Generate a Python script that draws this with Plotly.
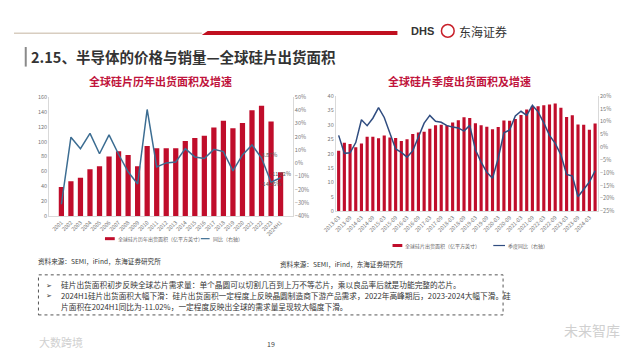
import plotly.graph_objects as go

# ---------------- data ----------------
years = ["2001", "2002", "2003", "2004", "2005", "2006", "2007", "2008", "2009", "2010",
         "2011", "2012", "2013", "2014", "2015", "2016", "2017", "2018", "2019", "2020",
         "2021", "2022", "2023", "2024H1"]
annual_area = [39, 47, 51.5, 63, 67, 80, 87, 82, 67, 94,
               91, 91, 91, 101, 105, 108, 119, 128, 118, 125,
               142, 148, 127, 59]
annual_yoy = [-31.0, 19.6, 10.9, 22.5, 7.1, 21.3, 6.7, -6.5, -15.7, 40.5,
              -2.8, 0.2, 0.9, 11.0, 4.7, 3.5, 10.4, 8.7, -5.8, 6.2,
              13.8, 3.87, -14.35, -11.02]
annual_labels = [""] * 21 + ["3.87%", "-14.35%", "-11.02%"]

quarters = ["2013-03", "2013-06", "2013-09", "2013-12", "2014-03", "2014-06", "2014-09", "2014-12",
            "2015-03", "2015-06", "2015-09", "2015-12", "2016-03", "2016-06", "2016-09", "2016-12",
            "2017-03", "2017-06", "2017-09", "2017-12", "2018-03", "2018-06", "2018-09", "2018-12",
            "2019-03", "2019-06", "2019-09", "2019-12", "2020-03", "2020-06", "2020-09", "2020-12",
            "2021-03", "2021-06", "2021-09", "2021-12", "2022-03", "2022-06", "2022-09", "2022-12",
            "2023-03", "2023-06", "2023-09", "2023-12", "2024-03", "2024-06"]
quarter_ticks = ["2013-03", "2013-09", "2014-03", "2014-09", "2015-03", "2015-09", "2016-03",
                 "2016-09", "2017-03", "2017-09", "2018-03", "2018-09", "2019-03", "2019-09",
                 "2020-03", "2020-09", "2021-03", "2021-09", "2022-03", "2022-09", "2023-03",
                 "2023-09", "2024-03"]
quarter_area = [21.0, 23.8, 23.3, 22.2, 23.5, 25.8, 25.8, 25.3, 26.3, 25.6, 25.4, 24.4,
                25.0, 26.8, 27.3, 27.6, 28.6, 29.8, 30.0, 29.8, 30.8, 31.6, 32.6, 32.3,
                30.5, 29.8, 29.3, 28.4, 29.2, 31.5, 31.4, 32.0, 33.4, 35.3, 36.5, 36.4,
                36.8, 37.0, 37.4, 35.9, 32.7, 33.3, 30.1, 30.0, 28.3, 30.4]
quarter_yoy = [4.6, -2.4, -2.2, 1.8, 10.7, 8.4, 11.3, 15.4, 11.6, 5.0, -0.7, -2.0,
               -3.9, -1.4, 4.4, 9.4, 12.4, 10.1, 9.7, 8.4, 7.9, 7.5, 6.3, 8.5,
               -1.0, -5.8, -9.8, -12.1, -4.3, 5.6, 6.7, 12.2, 14.0, 12.4, 16.3, 13.8,
               9.5, 4.6, 1.5, -3.0, -10.6, -11.2, -19.3, -16.5, -13.6, -9.2]

left_series_names = ["全球硅片历年出货面积（亿平方英寸）", "同比（右轴）"]
right_series_names = ["全球硅片出货面积（亿平方英寸）", "季度同比（右轴）"]

RED = "#c00d2b"
BLUE_L = "#3c6d92"
BLUE_R = "#304d80"
CJK = "Noto Sans CJK SC"
TICK = dict(size=5.5, color="#777777", family=CJK)


def X(px):
    return px / 640


def Y(py):
    return 1 - py / 360


fig = go.Figure()

# left chart
fig.add_trace(go.Bar(x=years, y=annual_area, name=left_series_names[0],
                     marker=dict(color=RED, line=dict(width=0)), xaxis="x", yaxis="y"))
fig.add_trace(go.Scatter(x=years, y=[v / 100 for v in annual_yoy], name=left_series_names[1],
                         mode="lines+text", text=annual_labels,
                         textposition=["top center"] * 21 + ["top right", "bottom center", "top center"],
                         textfont=dict(size=5.5, color="#555555", family=CJK),
                         line=dict(color=BLUE_L, width=1.5), xaxis="x", yaxis="y2",
                         cliponaxis=False))

# right chart
fig.add_trace(go.Bar(x=quarters, y=quarter_area, name=right_series_names[0],
                     marker=dict(color=RED, line=dict(width=0)), xaxis="x2", yaxis="y3"))
fig.add_trace(go.Scatter(x=quarters, y=quarter_yoy, name=right_series_names[1], mode="lines",
                         line=dict(color=BLUE_R, width=1.5), xaxis="x2", yaxis="y4"))

axis_common = dict(showgrid=False, zeroline=False, showline=True, linecolor="#d9d9d9",
                   linewidth=1, ticks="", tickfont=TICK)

fig.update_layout(
    width=640, height=360,
    margin=dict(l=0, r=0, t=0, b=0),
    paper_bgcolor="white", plot_bgcolor="white",
    font=dict(family=CJK),
    bargap=0.45,
    showlegend=False,
    xaxis=dict(domain=[X(36), X(285)], anchor="y", tickangle=-45, type="category", **axis_common),
    yaxis=dict(domain=[Y(217), Y(95)], range=[0, 160], dtick=20, **axis_common),
    yaxis2=dict(overlaying="y", side="right", anchor="x", range=[-0.4, 0.5], dtick=0.1,
                tickformat=".0%", **axis_common),
    xaxis2=dict(domain=[X(329), X(597)], anchor="y3", tickangle=-45, type="category",
                tickmode="array", tickvals=quarter_ticks, ticktext=quarter_ticks, **axis_common),
    yaxis3=dict(domain=[Y(212), Y(94)], anchor="x2", range=[0, 40], dtick=5, **axis_common),
    yaxis4=dict(overlaying="y3", side="right", anchor="x2", range=[-25, 20], dtick=5,
                ticksuffix="%", **axis_common),
)


def line_shape(x0, x1, y0, y1, color, width, dash="solid"):
    return dict(type="line", xref="paper", yref="paper", x0=X(x0), x1=X(x1), y0=Y(y0), y1=Y(y1),
                line=dict(color=color, width=width, dash=dash))


shapes = [
    line_shape(0, 192, 30, 30, "#d8cdc0", 1.5),
    dict(type="path", xref="paper", yref="paper",
         path=f"M {X(192)} {Y(31.8)} L {X(198)} {Y(27.6)} L {X(392)} {Y(27.6)} L {X(392)} {Y(31.8)} Z",
         fillcolor="#c0101f", line=dict(width=0)),
    line_shape(12, 12, 44, 64, "#8a8a8a", 2),
    dict(type="circle", xref="paper", yref="paper", x0=X(437), x1=X(450), y0=Y(34), y1=Y(21),
         line=dict(color="#c8202a", width=1.5)),
    dict(type="rect", xref="paper", yref="paper", x0=X(25), x1=X(500), y0=Y(318), y1=Y(277),
         line=dict(color="#555555", width=1, dash="dot")),
    # legend keys
    line_shape(93, 103, 240, 240, RED, 3),
    line_shape(191, 200, 240, 240, BLUE_L, 1.2),
    line_shape(387, 397, 247, 247, RED, 3),
    line_shape(490, 502, 247, 247, BLUE_R, 1.2),
]
fig.update_layout(shapes=shapes)


def ann(px, py, text, size, color="#333333", xanchor="left", bold=False, family=CJK):
    if bold:
        text = f"<b>{text}</b>"
    return dict(x=X(px), y=Y(py), xref="paper", yref="paper", text=text, showarrow=False,
                xanchor=xanchor, yanchor="middle", font=dict(size=size, color=color, family=family))


annotations = [
    ann(404, 28, "DHS", 11, "#333333", bold=True, family="Liberation Sans"),
    ann(453, 28, "东海证券", 12, "#333333"),
    ann(15, 54, "2.15、半导体的价格与销量—全球硅片出货面积", 14.5, "#333333", bold=True),
    ann(150, 79, "全球硅片历年出货面积及增速", 11, "#c0143c", xanchor="center", bold=True),
    ann(455, 79, "全球硅片季度出货面积及增速", 11, "#c0143c", xanchor="center", bold=True),
    ann(104, 240, left_series_names[0], 5, "#666666"),
    ann(201, 240, left_series_names[1], 5, "#666666"),
    ann(398, 247, right_series_names[0], 5, "#666666"),
    ann(503, 247, right_series_names[1], 5, "#666666"),
    ann(23, 263, "资料来源：SEMI，iFind，东海证券研究所", 6.6, "#333333"),
    ann(270, 266, "资料来源：SEMI，iFind，东海证券研究所", 6.6, "#333333"),
    ann(31, 287, "➢", 7, "#333333"),
    ann(46, 287, "硅片出货面积初步反映全球芯片需求量：单个晶圆可以切割几百到上万不等芯片，乘以良品率后就是功能完整的芯片。", 7.7),
    ann(31, 298, "➢", 7, "#333333"),
    ann(46, 298, "2024H1硅片出货面积大幅下滑：硅片出货面积一定程度上反映晶圆制造商下游产品需求，2022年高峰期后，2023-2024大幅下滑。硅", 7.7),
    ann(46, 309, "片面积在2024H1同比为-11.02%，一定程度反映出全球的需求量呈现较大幅度下滑。", 7.7),
    ann(263, 348, "19", 7, "#444444", xanchor="center"),
    ann(24, 346, "大数跨境", 11, "#d0d0d0"),
    ann(560, 333, "未来智库", 14, "#d0d0d0"),
]
fig.update_layout(annotations=annotations)

fig.write_html("out.html", config={"displayModeBar": False},
               post_script="document.body.style.margin='0px';")
